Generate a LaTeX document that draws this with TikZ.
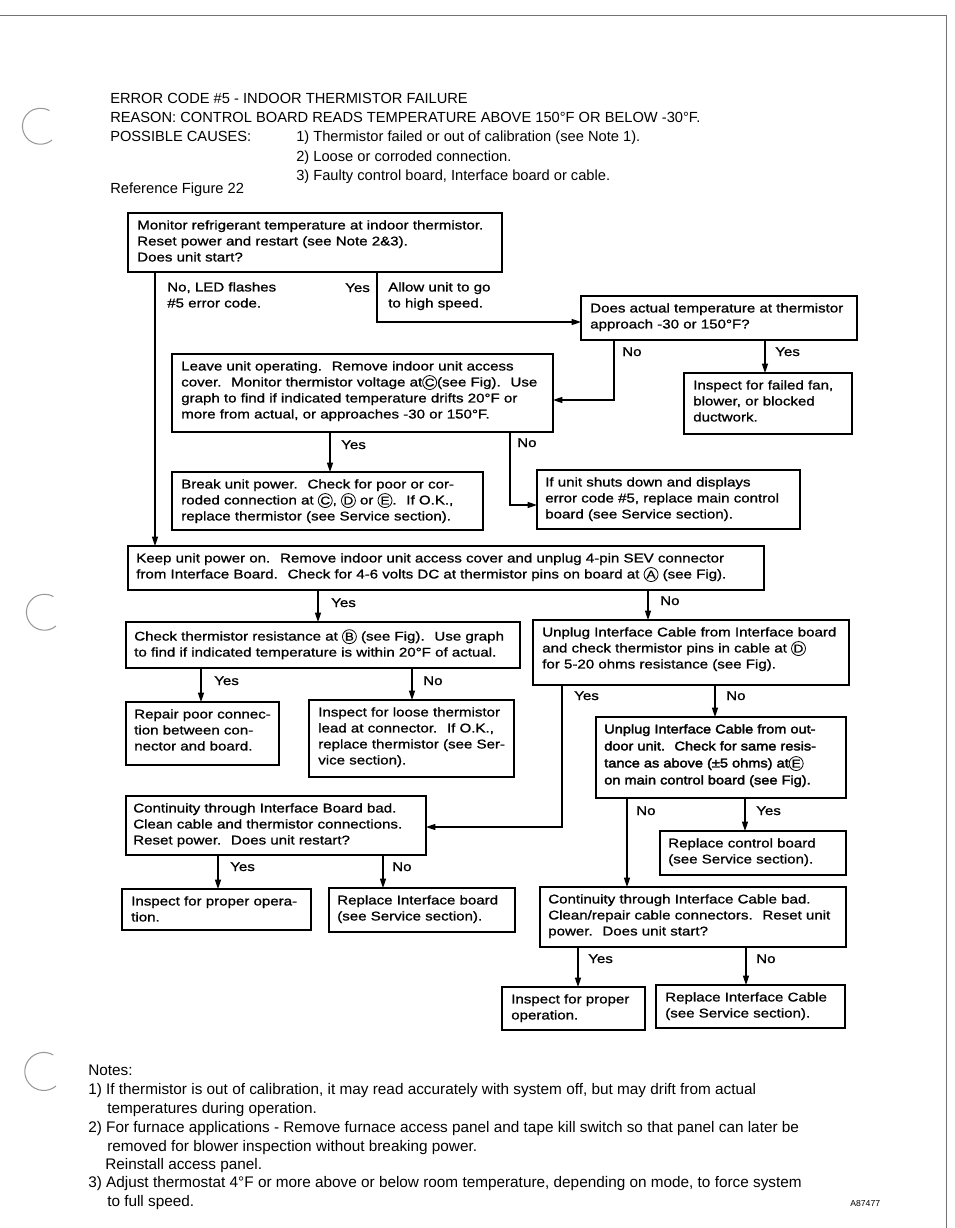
\documentclass[tikz,border=0pt]{standalone}
\usepackage{fontspec}
\setmainfont{Liberation Sans}
\newfontfamily\flowfont[FakeStretch=1.19,FakeBold=1]{Liberation Sans}
\newfontfamily\flowbold[FakeStretch=1.15,FakeBold=2.5]{Liberation Sans}
\usetikzlibrary{arrows.meta}
\newcommand\circled[1]{\tikz[baseline=(cl.base)]\node[draw, circle, line width=0.6pt, inner sep=0pt, minimum size=10.5pt, font=\flowfont\fontsize{8.5pt}{8.5pt}\selectfont] (cl) {#1};}
\newcommand\cA{\circled{A}}
\newcommand\cB{\circled{B}}
\newcommand\cC{\circled{C}}
\newcommand\cD{\circled{D}}
\newcommand\cE{\circled{E}}
\newcommand\fbx[5]{\node[box, minimum width={(#4-#2)*0.75pt}, minimum height={(#5-#3)*0.75pt}] (#1) at (#2,#3) {};}
\tikzset{
  box/.style={draw, line width=1.1pt, anchor=north west, inner sep=0pt, outer sep=0pt},
  txt/.style={anchor=north west, inner sep=0pt, align=left, font=\flowfont\fontsize{9.5pt}{12pt}\selectfont},
  txtb/.style={anchor=north west, inner sep=0pt, align=left, font=\flowbold\fontsize{9.5pt}{12.75pt}\selectfont},
  lbl/.style={anchor=base west, inner sep=0pt, font=\flowfont\fontsize{9.5pt}{12pt}\selectfont},
  arr/.style={line width=0.9pt, -{Triangle[length=7pt,width=4.5pt]}},
  head/.style={anchor=base west, inner sep=0pt, font=\fontsize{11pt}{13pt}\selectfont},
  note/.style={anchor=base west, inner sep=0pt, font=\fontsize{11.5pt}{13pt}\selectfont},
  pageedge/.style={draw=black!55, line width=0.6pt},
  hole/.style={draw=black!40, line width=0.8pt},
}
\begin{document}
\begin{tikzpicture}[x=0.75pt,y=-0.75pt]
\useasboundingbox (0,0) rectangle (954,1228);
\fill[white] (0,0) rectangle (954,1228);

% page edges and binder holes
\draw[pageedge] (0,15) -- (946,15) -- (946,1228);
\draw[hole] (52,140) arc[start angle=50, end angle=300, radius=18];
\draw[hole] (56,626) arc[start angle=50, end angle=300, radius=18];
\draw[hole] (56,1086) arc[start angle=50, end angle=300, radius=19];

% header
\node[head] (h1) at (110,103) {ERROR CODE \#5 - INDOOR THERMISTOR FAILURE};
\node[head] (h2) at (110,122) {REASON: CONTROL BOARD READS TEMPERATURE ABOVE 150°F OR BELOW -30°F.};
\node[head] (h3) at (110,141) {POSSIBLE CAUSES:};
\node[head] (h4) at (296,141) {1) Thermistor failed or out of calibration (see Note 1).};
\node[head] (h5) at (296,161) {2) Loose or corroded connection.};
\node[head] (h6) at (296,180) {3) Faulty control board, Interface board or cable.};
\node[head] (h7) at (110,193) {Reference Figure 22};

% boxes
\fbx{b1}{128}{213}{502}{272}
\fbx{b2}{581}{296}{857}{340}
\fbx{b3}{684}{373}{852}{434}
\fbx{b4}{172}{354}{553}{432}
\fbx{b5}{172}{472}{483}{530}
\fbx{b6}{537}{470}{800}{529}
\fbx{b7}{128}{546}{764}{590}
\fbx{b8}{126}{622}{520}{668}
\fbx{b9}{533}{620}{849}{685}
\fbx{b10}{126}{702}{279}{765}
\fbx{b11}{309}{700}{514}{777}
\fbx{b12}{596}{717}{846}{798}
\fbx{b13}{126}{796}{426}{855}
\fbx{b14}{660}{831}{846}{875}
\fbx{b15}{122}{889}{311}{930}
\fbx{b16}{329}{888}{515}{932}
\fbx{b17}{540}{887}{846}{947}
\fbx{b18}{502}{987}{645}{1030}
\fbx{b19}{656}{985}{845}{1028}

% box texts
\node[txt] (t1) at (137,220) {Monitor refrigerant temperature at indoor thermistor.\\Reset power and restart (see Note 2\&3).\\Does unit start?};
\node[txt] (t2) at (590,303) {Does actual temperature at thermistor\\approach -30 or 150°F?};
\node[txt] (t3) at (693,380) {Inspect for failed fan,\\blower, or blocked\\ductwork.};
\node[txt] (t4) at (181,361) {Leave unit operating.~ Remove indoor unit access\\cover.~ Monitor thermistor voltage at\cC(see Fig).~ Use\\graph to find if indicated temperature drifts 20°F or\\more from actual, or approaches -30 or 150°F.};
\node[txt] (t5) at (181,479) {Break unit power.~ Check for poor or cor-\\roded connection at \cC, \cD{} or \cE.~ If O.K.,\\replace thermistor (see Service section).};
\node[txt] (t6) at (545,477) {If unit shuts down and displays\\error code \#5, replace main control\\board (see Service section).};
\node[txt] (t7) at (136,553) {Keep unit power on.~ Remove indoor unit access cover and unplug 4-pin SEV connector\\from Interface Board.~ Check for 4-6 volts DC at thermistor pins on board at \cA{} (see Fig).};
\node[txt] (t8) at (134,629) {Check thermistor resistance at \cB{} (see Fig).~ Use graph\\to find if indicated temperature is within 20°F of actual.};
\node[txt] (t9) at (542,627) {Unplug Interface Cable from Interface board\\and check thermistor pins in cable at \cD\\for 5-20 ohms resistance (see Fig).};
\node[txt] (t10) at (134,709) {Repair poor connec-\\tion between con-\\nector and board.};
\node[txt] (t11) at (318,707) {Inspect for loose thermistor\\lead at connector.~ If O.K.,\\replace thermistor (see Ser-\\vice section).};
\node[txtb] (t12) at (604,724) {Unplug Interface Cable from out-\\door unit.~ Check for same resis-\\tance as above (±5 ohms) at\cE\\on main control board (see Fig).};
\node[txt] (t13) at (133,803) {Continuity through Interface Board bad.\\Clean cable and thermistor connections.\\Reset power.~ Does unit restart?};
\node[txt] (t14) at (668,838) {Replace control board\\(see Service section).};
\node[txt] (t15) at (131,896) {Inspect for proper opera-\\tion.};
\node[txt] (t16) at (337,895) {Replace Interface board\\(see Service section).};
\node[txt] (t17) at (548,894) {Continuity through Interface Cable bad.\\Clean/repair cable connectors.~ Reset unit\\power.~ Does unit start?};
\node[txt] (t18) at (511,994) {Inspect for proper\\operation.};
\node[txt] (t19) at (665,992) {Replace Interface Cable\\(see Service section).};

% connectors
\draw[arr] (b1.south -| 155,0) -- (b7.north -| 155,0);
\draw[arr] (b1.south -| 377,0) |- (b2.west |- 0,322);
\draw[arr] (b2.south -| 614,0) |- (b4.east |- 0,400);
\draw[arr] (b2.south -| 765,0) -- (b3.north -| 765,0);
\draw[arr] (b4.south -| 330,0) -- (b5.north -| 330,0);
\draw[arr] (b4.south -| 510,0) |- (b6.west |- 0,505);
\draw[arr] (b7.south -| 318,0) -- (b8.north -| 318,0);
\draw[arr] (b7.south -| 648,0) -- (b9.north -| 648,0);
\draw[arr] (b8.south -| 201,0) -- (b10.north -| 201,0);
\draw[arr] (b8.south -| 412,0) -- (b11.north -| 412,0);
\draw[arr] (b9.south -| 562,0) |- (b13.east |- 0,827);
\draw[arr] (b9.south -| 715,0) -- (b12.north -| 715,0);
\draw[arr] (b12.south -| 627,0) -- (b17.north -| 627,0);
\draw[arr] (b12.south -| 745,0) -- (b14.north -| 745,0);
\draw[arr] (b13.south -| 218,0) -- (b15.north -| 218,0);
\draw[arr] (b13.south -| 383,0) -- (b16.north -| 383,0);
\draw[arr] (b17.south -| 578,0) -- (b18.north -| 578,0);
\draw[arr] (b17.south -| 746,0) -- (b19.north -| 746,0);

% branch labels
\node[txt] (l1) at (167,282) {No, LED flashes\\\#5 error code.};
\node[lbl] (l2) at (345,292) {Yes};
\node[txt] (l3) at (388,282) {Allow unit to go\\to high speed.};
\node[lbl] (l4) at (622,356) {No};
\node[lbl] (l5) at (775,356) {Yes};
\node[lbl] (l6) at (341,449) {Yes};
\node[lbl] (l7) at (517,447) {No};
\node[lbl] (l8) at (331,607) {Yes};
\node[lbl] (l9) at (660,605) {No};
\node[lbl] (l10) at (214,685) {Yes};
\node[lbl] (l11) at (423,685) {No};
\node[lbl] (l12) at (574,700) {Yes};
\node[lbl] (l13) at (726,700) {No};
\node[lbl] (l14) at (636,815) {No};
\node[lbl] (l15) at (756,815) {Yes};
\node[lbl] (l16) at (230,871) {Yes};
\node[lbl] (l17) at (392,871) {No};
\node[lbl] (l18) at (588,963) {Yes};
\node[lbl] (l19) at (756,963) {No};

% notes
\node[note] (n0) at (88,1075) {Notes:};
\node[note] (n1) at (88,1094) {1) If thermistor is out of calibration, it may read accurately with system off, but may drift from actual};
\node[note] (n1b) at (107,1113) {temperatures during operation.};
\node[note] (n2) at (88,1132) {2) For furnace applications - Remove furnace access panel and tape kill switch so that panel can later be};
\node[note] (n2b) at (107,1151) {removed for blower inspection without breaking power.};
\node[note] (n2c) at (105,1169) {Reinstall access panel.};
\node[note] (n3) at (88,1187) {3) Adjust thermostat 4°F or more above or below room temperature, depending on mode, to force system};
\node[note] (n3b) at (107,1206) {to full speed.};
\node[anchor=base west, inner sep=0pt, font=\fontsize{6.5pt}{8pt}\selectfont] (code) at (850,1206) {A87477};
\end{tikzpicture}
\end{document}
